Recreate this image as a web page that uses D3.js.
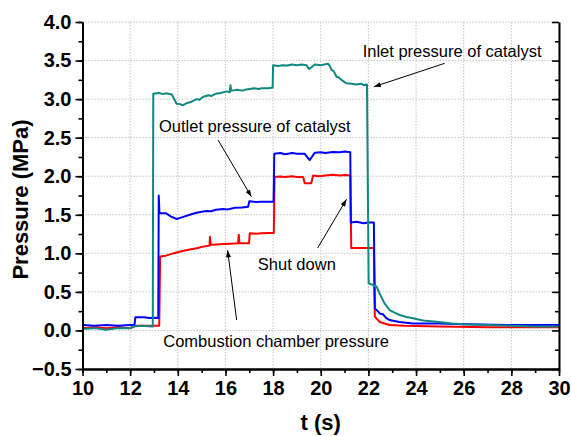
<!DOCTYPE html>
<html>
<head>
<meta charset="utf-8">
<script src="https://cdn.jsdelivr.net/npm/d3@7"></script>
<style>
  body { margin: 0; background: #fff; }
  svg text { font-family: "Liberation Sans", Arial, sans-serif; }
</style>
</head>
<body>
<div id="chart"></div>
<script>
// pressure traces, [t (s), p (MPa)]
var inletP = [[10.0,0.02],[10.5,0.03],[11.0,0.01],[11.5,0.03],[12.0,0.03],[12.1,0.05],[12.5,0.06],[12.95,0.05],
  [12.97,3.07],[13.2,3.08],[13.4,3.065],[13.5,3.075],[13.75,3.06],[13.85,3.0],[13.95,2.94],[14.1,2.935],[14.2,2.92],
  [14.4,2.95],[14.6,2.97],[14.8,3.0],[14.9,2.99],[15.07,3.03],[15.3,3.05],[15.4,3.04],[15.6,3.07],[15.8,3.08],
  [16.05,3.1],[16.18,3.09],[16.21,3.18],[16.24,3.11],[16.5,3.12],[16.7,3.11],[16.88,3.125],[17.2,3.14],[17.4,3.13],
  [17.5,3.14],[17.8,3.14],[17.98,3.15],[18.0,3.44],[18.2,3.43],[18.4,3.44],[18.6,3.435],[18.8,3.45],[19.0,3.44],
  [19.2,3.45],[19.4,3.44],[19.51,3.39],[19.6,3.41],[19.75,3.45],[20.0,3.44],[20.15,3.45],[20.3,3.46],[20.38,3.43],
  [20.45,3.38],[20.55,3.36],[20.66,3.29],[20.75,3.28],[20.87,3.25],[21.0,3.22],[21.08,3.205],[21.3,3.2],[21.5,3.19],
  [21.7,3.2],[21.8,3.18],[21.94,3.19],[22.01,0.61],[22.2,0.59],[22.34,0.57],[22.47,0.48],[22.6,0.4],[22.68,0.35],
  [22.89,0.265],[23.1,0.23],[23.31,0.2],[23.6,0.175],[23.87,0.157],[24.3,0.13],[24.85,0.113],[25.5,0.09],
  [26.0,0.08],[27.0,0.07],[28.0,0.06],[29.0,0.05],[30.0,0.05]];

var outletP = [[10.0,0.07],[10.5,0.06],[11.0,0.07],[11.5,0.06],[12.0,0.07],[12.18,0.07],[12.22,0.17],[12.6,0.17],
  [12.8,0.16],[13.0,0.165],[13.18,0.16],[13.2,1.75],[13.23,1.52],[13.5,1.52],[13.7,1.48],[13.95,1.445],[14.2,1.47],
  [14.5,1.5],[14.79,1.527],[15.0,1.54],[15.2,1.55],[15.4,1.545],[15.6,1.565],[15.9,1.575],[16.1,1.57],[16.4,1.59],
  [16.7,1.595],[16.95,1.605],[17.0,1.675],[17.3,1.665],[17.5,1.67],[18.02,1.67],[18.05,2.29],[18.3,2.3],[18.5,2.285],
  [18.8,2.3],[19.0,2.29],[19.33,2.29],[19.45,2.24],[19.54,2.21],[19.65,2.26],[19.75,2.305],[20.0,2.31],[20.2,2.3],
  [20.5,2.315],[20.8,2.31],[21.0,2.32],[21.24,2.31],[21.26,1.4],[21.5,1.41],[21.8,1.39],[22.0,1.4],[22.23,1.4],
  [22.27,0.285],[22.4,0.25],[22.47,0.22],[22.61,0.21],[22.75,0.16],[22.89,0.135],[23.3,0.11],[23.86,0.09],
  [25.0,0.09],[26.0,0.08],[28.0,0.07],[30.0,0.07]];

var chamberP = [[10.0,0.03],[10.5,0.04],[11.0,0.03],[11.5,0.04],[12.0,0.03],[12.1,0.04],[12.2,0.06],[12.6,0.06],
  [13.0,0.06],[13.22,0.06],[13.26,0.96],[13.5,0.97],[13.7,0.99],[13.95,1.01],[14.2,1.03],[14.5,1.05],[14.79,1.065],
  [15.1,1.09],[15.33,1.1],[15.35,1.215],[15.38,1.11],[15.6,1.115],[15.9,1.12],[16.2,1.125],[16.53,1.13],[16.56,1.24],
  [16.59,1.13],[16.99,1.13],[17.02,1.26],[17.3,1.255],[17.5,1.26],[17.8,1.265],[18.03,1.265],[18.06,1.99],
  [18.3,1.995],[18.5,1.99],[18.8,2.0],[19.0,1.99],[19.26,1.99],[19.33,1.91],[19.6,1.91],[19.68,2.01],[19.9,2.0],
  [20.2,2.01],[20.5,2.02],[20.8,2.01],[21.0,2.015],[21.24,2.01],[21.28,1.07],[21.8,1.07],[22.23,1.07],[22.27,0.18],
  [22.47,0.11],[22.89,0.07],[23.5,0.06],[25.0,0.05],[27.0,0.04],[30.0,0.04]];

var xTicks = [10, 12, 14, 16, 18, 20, 22, 24, 26, 28, 30];
var yTicks = [-0.5, 0.0, 0.5, 1.0, 1.5, 2.0, 2.5, 3.0, 3.5, 4.0];

// labels with arrow: text anchor [t, p], arrow tail and head [t, p]
var notes = [
  { text: "Inlet pressure of catalyst", at: [21.76, 3.55], from: [25.2, 3.464], to: [22.23, 3.16] },
  { text: "Outlet pressure of catalyst", at: [13.21, 2.575], from: [15.69, 2.47], to: [17.09, 1.734] },
  { text: "Shut down", at: [17.36, 0.78], from: [19.87, 1.069], to: [21.08, 1.70] },
  { text: "Combustion chamber pressure", at: [13.39, -0.215], from: [16.47, 0.135], to: [16.09, 1.04] }
];

var margin = { top: 22, right: 12, bottom: 67, left: 82.5 },
    width = 571 - margin.left - margin.right,
    height = 436 - margin.top - margin.bottom;

var svg = d3.select("#chart").append("svg")
    .attr("width", 571)
    .attr("height", 436);

var g = svg.append("g")
    .attr("transform", "translate(" + margin.left + "," + margin.top + ")");

var x = d3.scaleLinear().domain([10, 30]).range([0, width]);
var y = d3.scaleLinear().domain([-0.5, 4.0]).range([height, 0]);

// dotted grid
g.append("g").selectAll("line")
    .data(xTicks.slice(1))
    .enter().append("line")
    .attr("x1", d => x(d)).attr("x2", d => x(d))
    .attr("y1", 0).attr("y2", height)
    .attr("stroke", "#c4c4c4").attr("stroke-dasharray", "1.5,1.5");
g.append("g").selectAll("line")
    .data(yTicks.slice(1))
    .enter().append("line")
    .attr("x1", 0).attr("x2", width)
    .attr("y1", d => y(d)).attr("y2", d => y(d))
    .attr("stroke", "#c4c4c4").attr("stroke-dasharray", "1.5,1.5");

// traces
var line = d3.line().x(d => x(d[0])).y(d => y(d[1]));
var traces = [[chamberP, "#ff0000"], [outletP, "#0000ff"], [inletP, "#108882"]];
traces.forEach(function (s) {
    g.append("path")
        .datum(s[0])
        .attr("fill", "none")
        .attr("stroke", s[1])
        .attr("stroke-width", 2)
        .attr("stroke-linejoin", "round")
        .attr("d", line);
});

// axes
function styleAxis(sel) {
    sel.select(".domain").attr("stroke", "#000").attr("stroke-width", 2);
    sel.selectAll(".tick line").attr("stroke", "#000").attr("stroke-width", 1.6);
}

var xMinor = d3.range(10, 30.01, 1);
var yMinor = d3.range(-0.5, 4.01, 0.25);

var xAxisG = g.append("g")
    .attr("transform", "translate(0," + height + ")")
    .call(d3.axisBottom(x).tickValues(xMinor).tickSize(4).tickFormat("").tickSizeOuter(0));
styleAxis(xAxisG);
var xMajor = g.append("g")
    .attr("transform", "translate(0," + height + ")")
    .call(d3.axisBottom(x).tickValues(xTicks).tickSize(7).tickSizeOuter(0).tickPadding(5).tickFormat(d3.format("d")));
styleAxis(xMajor);
xMajor.selectAll("text")
    .attr("fill", "#000").attr("font-size", 20).attr("font-weight", "bold")
    .style("font-family", "'Liberation Sans', Arial, sans-serif");

var yAxisG = g.append("g")
    .call(d3.axisLeft(y).tickValues(yMinor).tickSize(4).tickFormat("").tickSizeOuter(0));
styleAxis(yAxisG);
var yMajor = g.append("g")
    .call(d3.axisLeft(y).tickValues(yTicks).tickSize(7).tickSizeOuter(0).tickPadding(4).tickFormat(d3.format(".1f")));
styleAxis(yMajor);
yMajor.selectAll("text")
    .attr("fill", "#000").attr("font-size", 20).attr("font-weight", "bold")
    .style("font-family", "'Liberation Sans', Arial, sans-serif");

// right axis, ticks pointing in
var rAxis = g.append("g")
    .attr("transform", "translate(" + width + ",0)")
    .call(d3.axisLeft(y).tickValues(yMinor).tickSize(4).tickFormat("").tickSizeOuter(0));
styleAxis(rAxis);
rAxis.selectAll(".tick line")
    .attr("x2", d => (Math.abs(d * 2 - Math.round(d * 2)) < 1e-6 ? -7 : -4));

// axis titles
svg.append("text")
    .attr("x", margin.left + x(20))
    .attr("y", 430)
    .attr("text-anchor", "middle")
    .attr("font-size", 22).attr("font-weight", "bold")
    .text("t (s)");
svg.append("text")
    .attr("transform", "translate(28," + (margin.top + height / 2 + 4) + ") rotate(-90)")
    .attr("text-anchor", "middle")
    .attr("font-size", 22).attr("font-weight", "bold")
    .text("Pressure (MPa)");

// annotations
svg.append("defs").append("marker")
    .attr("id", "head")
    .attr("viewBox", "0 0 10 10")
    .attr("refX", 10).attr("refY", 5)
    .attr("markerWidth", 9).attr("markerHeight", 7)
    .attr("markerUnits", "userSpaceOnUse")
    .attr("orient", "auto")
    .append("path")
    .attr("d", "M0,1.5 L10,5 L0,8.5 Z")
    .attr("fill", "#000");

notes.forEach(function (n) {
    g.append("text")
        .attr("x", x(n.at[0]))
        .attr("y", y(n.at[1]))
        .attr("font-size", 16.5)
        .attr("fill", "#000")
        .text(n.text);
    g.append("line")
        .attr("x1", x(n.from[0])).attr("y1", y(n.from[1]))
        .attr("x2", x(n.to[0])).attr("y2", y(n.to[1]))
        .attr("stroke", "#000").attr("stroke-width", 1)
        .attr("marker-end", "url(#head)");
});
</script>
</body>
</html>
